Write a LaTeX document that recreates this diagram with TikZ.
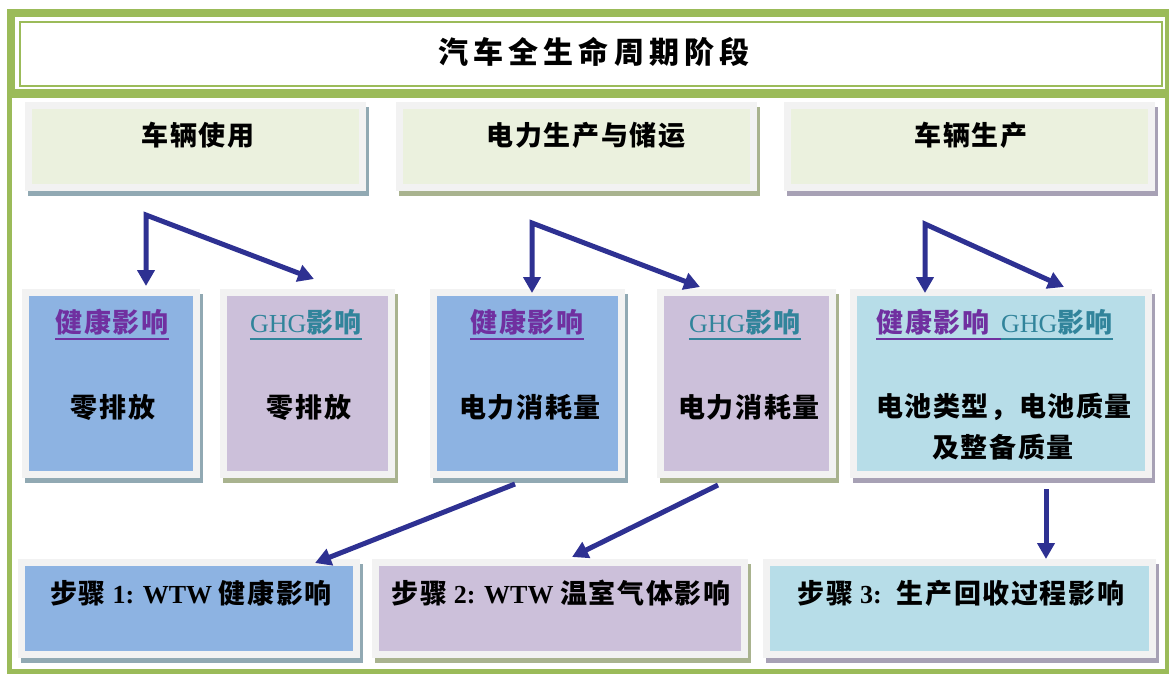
\documentclass[tikz,border=0pt]{standalone}
\usepackage{fontspec}
\setmainfont{Liberation Serif}
\newfontfamily\cjk{Noto Sans CJK SC}[LetterSpace=6]
\newfontfamily\cjkt{Noto Sans CJK SC}[LetterSpace=17]
\usetikzlibrary{arrows.meta}
\definecolor{frame}{HTML}{9BBB59}
\definecolor{cardgray}{HTML}{F2F2F2}
\definecolor{hdr}{HTML}{EBF1DE}
\definecolor{blu}{HTML}{8DB3E2}
\definecolor{pur}{HTML}{CCC0DA}
\definecolor{cyan}{HTML}{B7DDE8}
\definecolor{shB}{HTML}{91A9B3}
\definecolor{shG}{HTML}{A9B38F}
\definecolor{shP}{HTML}{A7A1B5}
\definecolor{arrowblue}{HTML}{2E3192}
\definecolor{hpurple}{HTML}{7030A0}
\definecolor{hteal}{HTML}{31849B}
\tikzset{
  card/.style={draw=cardgray, line width=7pt, inner sep=0pt},
  txt/.style={font=\fontsize{27}{32}\selectfont\bfseries, inner sep=0pt, text=black},
  ttl/.style={font=\fontsize{30}{36}\selectfont\bfseries, inner sep=0pt, text=black},
  uline/.style={line width=2pt},
  flow/.style={draw=arrowblue, line width=5pt, line join=miter, -{Triangle[width=17pt,length=16pt]}},
  flowtwo/.style={draw=arrowblue, line width=5pt, line join=miter, {Triangle[width=17pt,length=16pt]}-{Triangle[width=17pt,length=16pt]}}
}
\newcommand\mycard[7]{%
  \fill[#7] (#2+3,#3+5) rectangle (#4+3,#5+5);
  \node[card, fill=#6, minimum width={(#4-#2-7)*1pt}, minimum height={(#5-#3-7)*1pt}] (#1) at ({(#2+#4)/2},{(#3+#5)/2}) {};
}
\newcommand\latn[1]{{\fontsize{26}{32}\selectfont #1}}
\newcommand\latnb[1]{{\fontsize{26}{32}\selectfont #1}}
\begin{document}
\begin{tikzpicture}[x=1pt,y=-1pt]
\useasboundingbox (0,0) rectangle (1169,675);
% outer frame
\draw[frame, line width=5pt] (9.5,11.5) rectangle (1167,671);
\fill[frame] (7,9) rectangle (1169,98);
\fill[white] (15,17) rectangle (1165,89);
\draw[frame, line width=2pt] (20,22) rectangle (1162,86);
\node[ttl] (title) at (594,52) {\cjkt 汽车全生命周期阶段};
% header cards
\mycard{h1}{25}{102}{366}{191}{hdr}{shB}
\mycard{h2}{396}{102}{757}{191}{hdr}{shG}
\mycard{h3}{784}{102}{1155}{191}{hdr}{shP}
\node[txt] (h1t) at (198,135) {\cjk 车辆使用};
\node[txt] (h2t) at (586,135) {\cjk 电力生产与储运};
\node[txt] (h3t) at (971,135) {\cjk 车辆生产};
% middle cards
\mycard{a}{22}{289}{200}{478}{blu}{shB}
\mycard{b}{220}{289}{395}{478}{pur}{shG}
\mycard{c}{430}{289}{625}{478}{blu}{shB}
\mycard{d}{657}{289}{836}{478}{pur}{shG}
\mycard{e}{850}{289}{1152}{478}{cyan}{shP}
\node[txt, text=hpurple] (at) at (112,322) {\cjk 健康影响};
\draw[uline, hpurple] (at.west |- 0,339) -- (at.east |- 0,339);
\node[txt, text=hteal] (bt) at (306,322) {{\mdseries\latn{GHG}}{\cjk 影响}};
\draw[uline, hteal] (bt.west |- 0,339) -- (bt.east |- 0,339);
\node[txt, text=hpurple] (ct) at (527,322) {\cjk 健康影响};
\draw[uline, hpurple] (ct.west |- 0,339) -- (ct.east |- 0,339);
\node[txt, text=hteal] (dt) at (745,322) {{\mdseries\latn{GHG}}{\cjk 影响}};
\draw[uline, hteal] (dt.west |- 0,339) -- (dt.east |- 0,339);
\node[txt, text=hpurple] (et1) at (933,322) {\cjk 健康影响};
\node[txt, text=hteal] (et2) at (1057,322) {{\mdseries\latn{GHG}}{\cjk 影响}};
\draw[uline, hpurple] (et1.west |- 0,339) -- (et2.west |- 0,339);
\draw[uline, hteal] (et2.west |- 0,339) -- (et2.east |- 0,339);
\node[txt] (ab) at (113,407) {\cjk 零排放};
\node[txt] (bb) at (309,407) {\cjk 零排放};
\node[txt] (cb) at (530,407) {\cjk 电力消耗量};
\node[txt] (db) at (749,407) {\cjk 电力消耗量};
\node[txt] (eb1) at (1004,407) {\cjk 电池类型，电池质量};
\node[txt] (eb2) at (1003,447) {\cjk 及整备质量};
% step cards
\mycard{s1}{18}{559}{360}{658}{blu}{shB}
\mycard{s2}{372}{559}{748}{658}{pur}{shG}
\mycard{s3}{763}{559}{1156}{658}{cyan}{shP}
\node[txt] (s1t) at (191,593) {{\cjk 步骤} \latnb{1: WTW} {\cjk 健康影响}};
\node[txt] (s2t) at (561,593) {{\cjk 步骤} \latnb{2: WTW} {\cjk 温室气体影响}};
\node[txt] (s3t) at (961,593) {{\cjk 步骤} \latnb{3:}\hspace{6pt} {\cjk 生产回收过程影响}};
% arrows
\coordinate (k1) at (146,215); \coordinate (k1a) at (146,286); \coordinate (k1b) at (314,279);
\coordinate (k2) at (532,223); \coordinate (k2a) at (532,293); \coordinate (k2b) at (700,287);
\coordinate (k3) at (925,224); \coordinate (k3a) at (925,293); \coordinate (k3b) at (1064,287);
\draw[flowtwo] (k1a) -- (k1) -- (k1b);
\draw[flowtwo] (k2a) -- (k2) -- (k2b);
\draw[flowtwo] (k3a) -- (k3) -- (k3b);
\coordinate (q4) at (515,484); \coordinate (q4t) at (315,563);
\coordinate (q5) at (718,485); \coordinate (q5t) at (572,557);
\coordinate (q6) at (1046,489); \coordinate (q6t) at (1046,559);
\draw[flow] (q4) -- (q4t);
\draw[flow] (q5) -- (q5t);
\draw[flow] (q6) -- (q6t);
\end{tikzpicture}
\end{document}
